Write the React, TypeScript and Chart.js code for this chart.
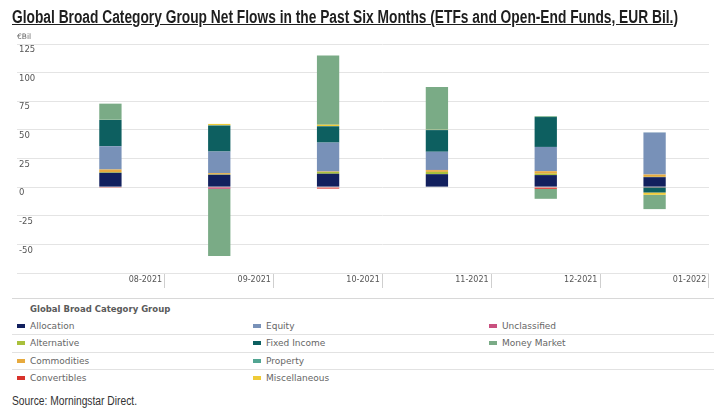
import React, { useEffect, useRef } from "react";
import { Chart, registerables } from "chart.js";

Chart.register(...registerables);

const categories = ["08-2021", "09-2021", "10-2021", "11-2021", "12-2021", "01-2022"];

const allocation = [12.5, 10.8, 11.7, 11.3, 10.5, 8.7];
const alternative = [0.6, 0.4, 1.5, 2.0, 1.2, 0.3];
const commodities = [2.3, 1.0, 0.4, 1.5, 2.2, 2.0];
const convertibles = [-0.7, -0.3, -1.3, 0.2, -1.5, -0.3];
const equity = [20.3, 18.9, 25.3, 15.9, 21.2, 36.6];
const fixedIncome = [23.0, 22.6, 14.2, 18.9, 26.1, -4.4];
const property = [0.2, 0.3, 0.2, 0.3, 0.6, 0.1];
const miscellaneous = [0.1, 1.2, 1.2, 0.2, 0.3, -2.0];
const unclassified = [0.0, -1.2, 0.0, 0.0, 0.0, 0.0];
const moneyMarket = [13.9, -58.7, 60.4, 37.2, -8.7, -12.5];

const yTicks = [125, 100, 75, 50, 25, 0, -25, -50, -75];

const series = [
  { name: "Allocation", data: allocation, color: "#12205e" },
  { name: "Alternative", data: alternative, color: "#a9c03c" },
  { name: "Commodities", data: commodities, color: "#e7aa3e" },
  { name: "Convertibles", data: convertibles, color: "#d8322b" },
  { name: "Equity", data: equity, color: "#7891b8" },
  { name: "Fixed Income", data: fixedIncome, color: "#0d5f60" },
  { name: "Property", data: property, color: "#52a592" },
  { name: "Miscellaneous", data: miscellaneous, color: "#efcb38" },
  { name: "Unclassified", data: unclassified, color: "#c9507f" },
  { name: "Money Market", data: moneyMarket, color: "#7aab86" },
];

const narrow = '"Liberation Sans Narrow", "Liberation Sans", "DejaVu Sans Condensed", sans-serif';
const small = '"DejaVu Sans", Verdana, sans-serif';

function FitText(props: { width: number; style: any; children: any }) {
  const r = useRef<HTMLSpanElement | null>(null);
  useEffect(() => {
    const el = r.current;
    if (!el) return;
    el.style.transform = "none";
    const w = el.getBoundingClientRect().width;
    if (w > 0) el.style.transform = `scaleX(${props.width / w})`;
  }, [props.width]);
  return (
    <span ref={r} style={{ ...props.style, display: "inline-block", transformOrigin: "0 0", whiteSpace: "nowrap" }}>
      {props.children}
    </span>
  );
}

export default function App() {
  const ref = useRef<HTMLCanvasElement | null>(null);

  useEffect(() => {
    if (!ref.current) return;
    const chart = new Chart(ref.current, {
      type: "bar",
      data: {
        labels: categories,
        datasets: series.map((s) => ({
          label: s.name,
          data: s.data,
          backgroundColor: s.color,
          borderWidth: 0,
          categoryPercentage: 1,
          barPercentage: 0.205,
        })),
      },
      options: {
        responsive: false,
        animation: false,
        layout: { padding: { left: 19, right: 5, top: 44, bottom: 0 } },
        plugins: { legend: { display: false }, tooltip: { enabled: false } },
        scales: {
          x: {
            stacked: true,
            border: { display: false },
            grid: {
              offset: true,
              drawOnChartArea: false,
              drawTicks: true,
              tickLength: 15,
              color: (ctx: any) => (ctx.index === 0 ? "rgba(0,0,0,0)" : "#cfcfcf"),
            },
            ticks: {
              padding: -13,
              labelOffset: 35,
              maxRotation: 0,
              autoSkip: false,
              color: "#555",
              font: { family: small, size: 8 },
            },
            afterFit: (scale: any) => {
              scale.height = 17;
            },
          },
          y: {
            stacked: true,
            min: -75,
            max: 125,
            border: { display: false },
            grid: { color: "#e4e4e4", tickLength: 39, drawTicks: true },
            afterBuildTicks: (scale: any) => {
              scale.ticks = yTicks.map((v) => ({ value: v }));
            },
            ticks: {
              crossAlign: "far",
              labelOffset: 6,
              color: "#555",
              font: { family: small, size: 8.5 },
              callback: (v: any) => (v === -75 ? "" : String(v)),
            },
            afterFit: (scale: any) => {
              scale.width = 37;
            },
          },
        },
      },
    });
    return () => chart.destroy();
  }, []);

  return (
    <div style={{ position: "absolute", left: 0, top: 0, width: 714, height: 410, background: "#fff", overflow: "hidden" }}>
      <canvas ref={ref} width={714} height={290} style={{ position: "absolute", left: 0, top: 0, width: 714, height: 290 }} />
      <div style={{ position: "absolute", left: 12, top: 7 }}>
        <FitText
          width={666}
          style={{
            fontFamily: narrow,
            fontWeight: "bold",
            fontSize: 18,
            lineHeight: "21px",
            color: "#1e1e1e",
            textDecoration: "underline",
          }}
        >
          Global Broad Category Group Net Flows in the Past Six Months (ETFs and Open-End Funds, EUR Bil.)
        </FitText>
      </div>
      <div style={{ position: "absolute", left: 17, top: 32, fontFamily: small, fontSize: 7.5, color: "#666", lineHeight: "10px" }}>€Bil</div>
      <div style={{ position: "absolute", left: 12, top: 298, width: 702, borderTop: "1px solid #d8d8d8" }} />
      <div
        style={{
          position: "absolute",
          left: 30,
          top: 303,
          fontFamily: small,
          fontWeight: "bold",
          fontSize: 8.5,
          lineHeight: "12px",
          color: "#5a5a5a",
          whiteSpace: "nowrap",
        }}
      >
        Global Broad Category Group
      </div>
      {[0, 1, 2].map((r) => (
        <div key={r} style={{ position: "absolute", left: 12, top: 334 + r * 17.5, width: 702, borderTop: "1px solid #e2e2e2" }} />
      ))}
      {series.map((s, i) => {
        const col = Math.floor(i / 4);
        const row = i % 4;
        return (
          <div
            key={s.name}
            style={{
              position: "absolute",
              left: 17 + col * 236,
              top: 317 + row * 17.5,
              height: 17,
              display: "flex",
              alignItems: "center",
              fontFamily: small,
              fontSize: 9,
              color: "#666",
              whiteSpace: "nowrap",
            }}
          >
            <span style={{ display: "inline-block", width: 8, height: 4, background: s.color, marginRight: 5 }} />
            {s.name}
          </div>
        );
      })}
      <div style={{ position: "absolute", left: 12, top: 391 }}>
        <FitText width={125} style={{ fontFamily: narrow, fontSize: 12, lineHeight: "14px", color: "#333" }}>
          Source: Morningstar Direct.
        </FitText>
      </div>
    </div>
  );
}
